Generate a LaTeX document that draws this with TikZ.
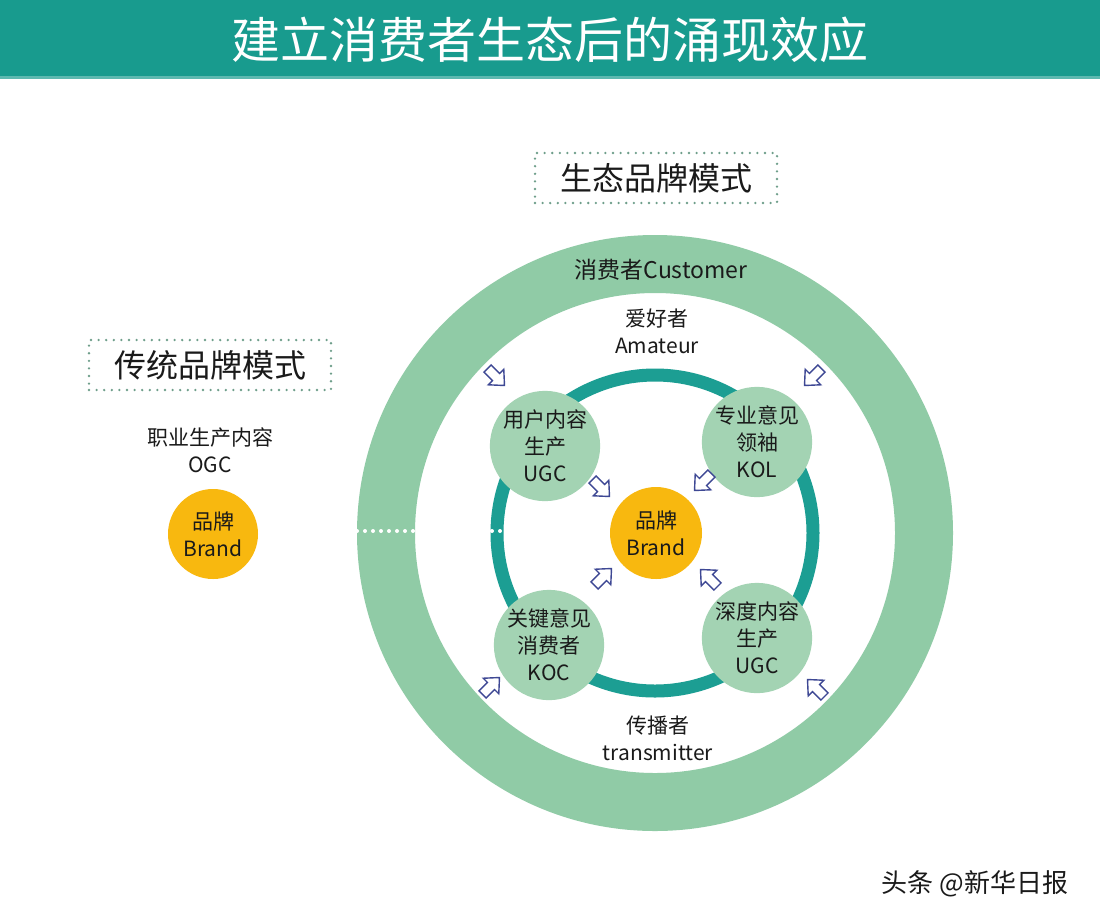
\documentclass[tikz,border=0pt]{standalone}
\usepackage{fontspec}
\setmainfont{Noto Sans CJK SC}
\definecolor{titlebar}{HTML}{189B8E}
\definecolor{bandgreen}{HTML}{90CBA6}
\definecolor{ringteal}{HTML}{1C9E93}
\definecolor{circgreen}{HTML}{A3D3B3}
\definecolor{brandorange}{HTML}{F8B80F}
\definecolor{arrowblue}{HTML}{3E4894}
\definecolor{dotgreen}{HTML}{6E9E8A}
\definecolor{txt}{HTML}{1A1A1A}
\tikzset{
  tbox/.style={draw=dotgreen, line width=2.6pt, dash pattern=on 0pt off 7.6pt, line cap=round,
    minimum width=242pt, minimum height=50pt, inner sep=0pt, text=txt,
    font=\fontsize{32}{36}\selectfont},
  role/.style={circle, fill=circgreen, minimum size=110pt, inner sep=0pt, text=txt, align=center,
    font=\fontsize{21}{27}\selectfont},
  brandc/.style={circle, fill=brandorange, minimum size=92pt, inner sep=0pt, text=txt, align=center,
    font=\fontsize{21}{27}\selectfont},
  lbl/.style={text=txt, align=center, inner sep=0pt, font=\fontsize{21}{27}\selectfont},
  harrow/.style={draw=arrowblue, fill=white, line width=1.4pt, line join=miter},
}
\newcommand{\hollowarrow}[3]{%
  \draw[harrow, shift={(#1,#2)}, rotate=#3]
    (-12,-5) -- (0,-5) -- (0,-11) -- (12,0) -- (0,11) -- (0,5) -- (-12,5) -- cycle;}
\begin{document}
\begin{tikzpicture}[x=1pt, y=-1pt]
\useasboundingbox[fill=white] (0,0) rectangle (1100,922);
% title
\fill[titlebar] (0,0) rectangle (1100,78);
\fill[titlebar!70!white] (0,76) rectangle (1100,79);
\node[text=white, inner sep=0pt, font=\fontsize{49}{52}\selectfont] (title) at (550,40) {建立消费者生态后的涌现效应};
% boxes
\node[tbox] (eco) at (656,178) {生态品牌模式};
\node[tbox] (trad) at (210,365) {传统品牌模式};
% rings
\draw[bandgreen, line width=58pt] (655,533) circle[radius=269pt];
\draw[ringteal, line width=13pt] (655,533) circle[radius=158pt];
\draw[white, line width=4pt, dash pattern=on 0pt off 8pt, line cap=round] (357,531) -- (416,531);
\draw[white, line width=4pt, dash pattern=on 0pt off 8pt, line cap=round] (492,531) -- (500,531);
% role circles
\node[role] (ugc) at (545,446) {用户内容\\生产\\UGC};
\node[role] (kol) at (757,442) {专业意见\\领袖\\KOL};
\node[role] (koc) at (549,645) {关键意见\\消费者\\KOC};
\node[role] (ugcd) at (757,638) {深度内容\\生产\\UGC};
\node[brandc] (brand) at (656,533) {品牌\\Brand};
% labels
\node[lbl, font=\fontsize{23}{27}\selectfont] (cust) at (661,270) {消费者Customer};
\node[lbl] (amat) at (657,331) {爱好者\\Amateur};
\node[lbl] (trans) at (658,738) {传播者\\transmitter};
\node[lbl] (ogc) at (210,450) {职业生产内容\\OGC};
\node[brandc, minimum size=90pt] (lbrand) at (213,534) {品牌\\Brand};
% arrows
\hollowarrow{496}{377}{-45}
\hollowarrow{601}{488}{-45}
\hollowarrow{813}{377}{-135}
\hollowarrow{703}{482}{-135}
\hollowarrow{603}{577}{45}
\hollowarrow{491}{686}{45}
\hollowarrow{709}{578}{135}
\hollowarrow{816}{688}{135}
% watermark
\node[text=txt, inner sep=0pt, font=\fontsize{26}{30}\selectfont] (wm) at (975,884) {头条 @新华日报};
\end{tikzpicture}
\end{document}
